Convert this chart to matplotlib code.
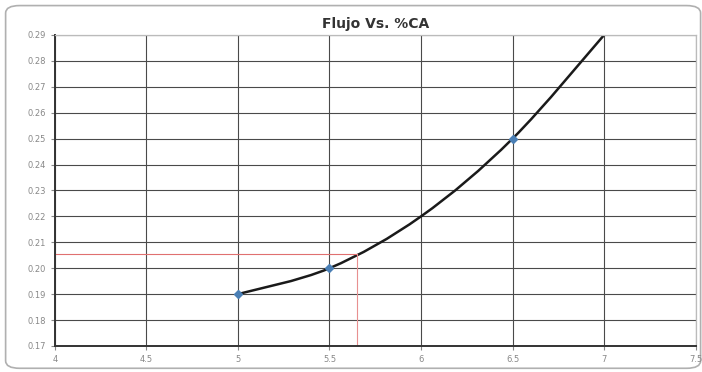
import matplotlib
matplotlib.use("Agg")
import matplotlib.pyplot as plt
from matplotlib.path import Path
from matplotlib.patches import PathPatch, FancyBboxPatch

# datos
ca = [5.0, 5.5, 6.0, 6.5, 7.0]
flujo = [0.19, 0.20, 0.22, 0.25, 0.29]
marcados = [0, 1, 3]              # puntos con marcador visible
x_lect, y_lect = 5.65, 0.2056     # lectura en rojo
xticks = [4, 4.5, 5, 5.5, 6, 6.5, 7, 7.5]
yticks = [0.17, 0.18, 0.19, 0.20, 0.21, 0.22, 0.23, 0.24, 0.25, 0.26, 0.27, 0.28, 0.29]


def suavizado(xs, ys, t=1 / 6):
    # curva suave tipo Excel: segmentos Bezier cubicos entre los puntos
    pts = list(zip(xs, ys))
    verts = [pts[0]]; codes = [Path.MOVETO]
    n = len(pts)
    for i in range(n - 1):
        p0 = pts[max(i - 1, 0)]; p1 = pts[i]
        p2 = pts[i + 1]; p3 = pts[min(i + 2, n - 1)]
        c1 = (p1[0] + (p2[0] - p0[0]) * t, p1[1] + (p2[1] - p0[1]) * t)
        c2 = (p2[0] - (p3[0] - p1[0]) * t, p2[1] - (p3[1] - p1[1]) * t)
        verts += [c1, c2, p2]
        codes += [Path.CURVE4] * 3
    return Path(verts, codes)


fig = plt.figure(figsize=(7.02, 3.72), dpi=100)
fig.patches.append(FancyBboxPatch((0.008, 0.01), 0.99, 0.975,
                                  boxstyle="round,pad=0,rounding_size=0.02",
                                  transform=fig.transFigure, fc="none",
                                  ec="#b0b0b0", lw=1.2, zorder=-1))
ax = fig.add_axes([0.078, 0.07, 0.913, 0.836])
ax.set_xlim(4, 7.5)
ax.set_ylim(0.17, 0.29)
ax.set_xticks(xticks)
ax.set_xticklabels([f"{v:g}" for v in xticks])
ax.set_yticks(yticks)
ax.set_yticklabels([f"{v:.2f}" for v in yticks])
ax.tick_params(labelsize=6, colors="#888888", length=3, width=0.8)
ax.grid(True, color="#4a4a4a", lw=0.8)
ax.set_axisbelow(True)
for s in ["left", "bottom"]:
    ax.spines[s].set_color("#333333"); ax.spines[s].set_linewidth(1.4)
for s in ["right", "top"]:
    ax.spines[s].set_color("#bbbbbb"); ax.spines[s].set_linewidth(0.9)

ax.plot([4, x_lect], [y_lect, y_lect], color="#e07070", lw=0.8)
ax.plot([x_lect, x_lect], [y_lect, 0.17], color="#e89090", lw=0.8)
ax.add_patch(PathPatch(suavizado(ca, flujo), fc="none", ec="#1a1a1a", lw=1.8))
ax.plot([ca[i] for i in marcados], [flujo[i] for i in marcados], ls="none",
        marker="D", ms=4, color="#4a7fb5")

ax.set_title("Flujo Vs. %CA", fontsize=10, fontweight="bold", color="#333333", pad=5)
fig.savefig("out.png", dpi=100)
